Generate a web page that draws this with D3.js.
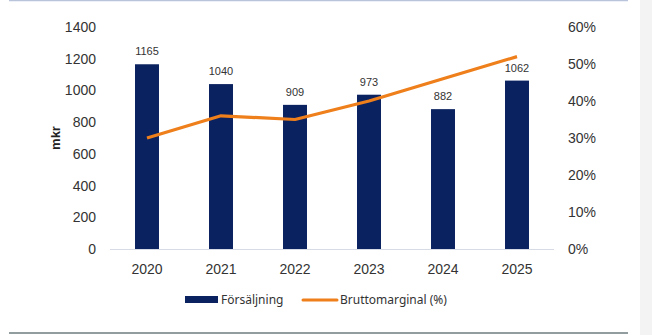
<!DOCTYPE html>
<html><head><meta charset="utf-8">
<script src="https://cdn.jsdelivr.net/npm/d3@7"></script>
<style>
html,body{margin:0;padding:0;background:#fff;}
svg{display:block;}
</style></head>
<body>
<script>
const years = ["2020","2021","2022","2023","2024","2025"];
const sales = [1165, 1040, 909, 973, 882, 1062];
const margin = [0.30, 0.36, 0.35, 0.40, 0.46, 0.52];
const leftTicks = [0,200,400,600,800,1000,1200,1400];
const rightTicks = [0,0.1,0.2,0.3,0.4,0.5,0.6];
const seriesNames = ["Försäljning","Bruttomarginal (%)"];

const W = 652, H = 335;
const svg = d3.select("body").append("svg").attr("width",W).attr("height",H);

// frame
svg.append("rect").attr("x",640).attr("y",0).attr("width",12).attr("height",H).attr("fill","#f3f3f4");
svg.append("line").attr("x1",9).attr("x2",628).attr("y1",0.5).attr("y2",0.5).attr("stroke","#b9c3da").attr("stroke-width",1.5);
svg.append("line").attr("x1",9).attr("x2",628).attr("y1",333).attr("y2",333).attr("stroke","#6e7c80").attr("stroke-width",1.5);

const x0 = 110, x1 = 554, yTop = 27, yBot = 249;
const x = d3.scaleBand().domain(years).range([x0,x1]).paddingInner(0.676).paddingOuter(0.338);
const yL = d3.scaleLinear().domain([0,1400]).range([yBot,yTop]);
const yR = d3.scaleLinear().domain([0,0.6]).range([yBot,yTop]);

const font = "'Liberation Sans', Arial, sans-serif";

// left axis
const gL = svg.append("g").attr("transform",`translate(${x0-14},0)`)
  .call(d3.axisLeft(yL).tickValues(leftTicks).tickFormat(d3.format("d")).tickSize(0).tickPadding(0));
gL.select(".domain").remove();
gL.selectAll("text").attr("font-family",font).attr("font-size",14).attr("fill","#333");

// right axis
const gR = svg.append("g").attr("transform",`translate(${568},0)`)
  .call(d3.axisRight(yR).tickValues(rightTicks).tickFormat(d3.format(".0%")).tickSize(0).tickPadding(0));
gR.select(".domain").remove();
gR.selectAll("text").attr("font-family",font).attr("font-size",14).attr("fill","#333");

// y title
svg.append("text").attr("transform",`translate(60,138) rotate(-90)`)
  .attr("text-anchor","middle").attr("font-family",font).attr("font-size",13).attr("font-weight","bold")
  .attr("fill","#222").text("mkr");

// baseline
svg.append("line").attr("x1",x0).attr("x2",x1).attr("y1",yBot+0.5).attr("y2",yBot+0.5).attr("stroke","#d6dbe6").attr("stroke-width",1);

// bars
svg.append("g").selectAll("rect").data(years).join("rect")
  .attr("x",d=>x(d)).attr("width",x.bandwidth())
  .attr("y",(d,i)=>yL(sales[i])).attr("height",(d,i)=>yBot-yL(sales[i]))
  .attr("fill","#0b2260");

// bar labels
svg.append("g").selectAll("text").data(years).join("text")
  .attr("x",d=>x(d)+x.bandwidth()/2).attr("y",(d,i)=>yL(sales[i])-9)
  .attr("text-anchor","middle").attr("font-family",font).attr("font-size",11).attr("fill","#333")
  .text((d,i)=>sales[i]);

// line
const line = d3.line().x((d,i)=>x(years[i])+x.bandwidth()/2).y(d=>yR(d));
svg.append("path").datum(margin).attr("d",line).attr("fill","none")
  .attr("stroke","#ee7f1b").attr("stroke-width",3.2).attr("stroke-linejoin","round");

// x axis labels
const gX = svg.append("g").attr("transform",`translate(0,${yBot+20})`)
  .call(d3.axisBottom(x).tickSize(0).tickPadding(0));
gX.select(".domain").remove();
gX.selectAll("text").attr("font-family",font).attr("font-size",14).attr("fill","#333").attr("dy","0.35em");

// legend
const lg = svg.append("g");
const legFont = "'Noto Sans', 'Open Sans', sans-serif";
lg.append("rect").attr("x",185).attr("y",296).attr("width",33).attr("height",7).attr("fill","#0b2260");
lg.append("text").attr("x",221).attr("y",299.5).attr("dy","0.35em").attr("font-family",legFont).attr("font-size",12).attr("fill","#333").text(seriesNames[0]);
lg.append("line").attr("x1",303).attr("x2",337).attr("y1",300).attr("y2",300).attr("stroke","#ee7f1b").attr("stroke-width",3).attr("stroke-linecap","round");
lg.append("text").attr("x",340).attr("y",299.5).attr("dy","0.35em").attr("font-family",legFont).attr("font-size",12).attr("fill","#333").text(seriesNames[1]);
</script>
</body></html>
